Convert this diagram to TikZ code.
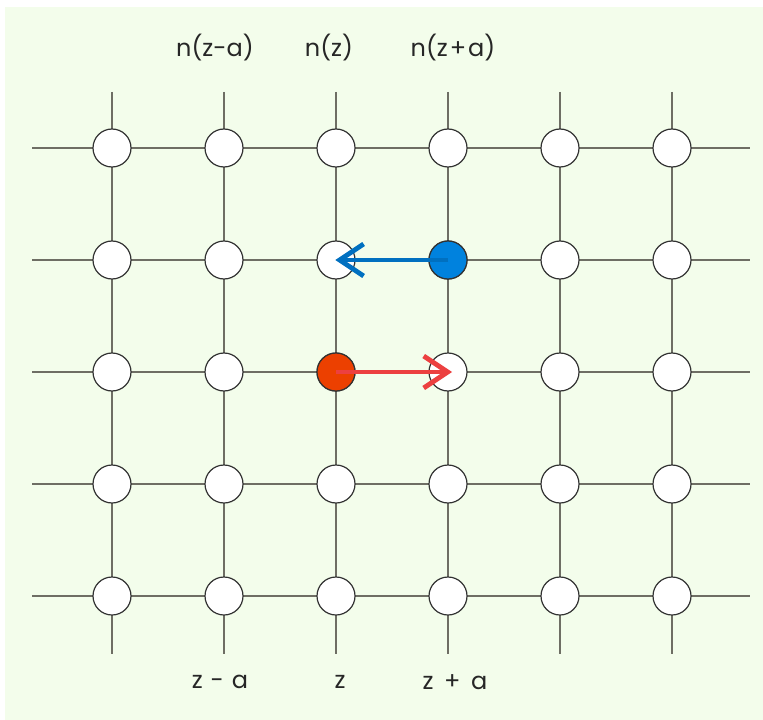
\documentclass[tikz,border=0pt]{standalone}
\usepackage{fontspec}
\setmainfont{Poppins}
\usetikzlibrary{arrows.meta}
\definecolor{bggreen}{RGB}{243,253,235}
\definecolor{gridgray}{RGB}{110,110,100}
\definecolor{ringgray}{RGB}{50,50,50}
\definecolor{bluefill}{RGB}{0,130,222}
\definecolor{bluearrow}{RGB}{0,112,192}
\definecolor{redfill}{RGB}{236,64,0}
\definecolor{redarrow}{RGB}{236,64,64}
\tikzset{
  site/.style={circle,draw=ringgray,line width=0.9pt,fill=white,minimum size=28.5pt,inner sep=0pt},
  gridline/.style={draw=gridgray,line width=0.9pt},
  lab/.style={font=\fontsize{18}{21}\selectfont,text=black!85,inner sep=0pt},
  jump/.style={line width=3.6pt,-{Straight Barb[length=18pt,width=24pt,line width=3.6pt]}}
}
\begin{document}
\begin{tikzpicture}[x=0.75pt,y=-0.75pt]
\useasboundingbox (0,0) rectangle (763,720);
\fill[bggreen] (5,7) rectangle (763,720);
% grid lines
\foreach \c in {112,224,336,448,560,672}
  \draw[gridline] (\c,92) -- (\c,654);
\foreach \r in {148,260,372,484,596}
  \draw[gridline] (32,\r) -- (750,\r);
% sites
\foreach \i/\c in {1/112,2/224,3/336,4/448,5/560,6/672}
  \foreach \j/\r in {1/148,2/260,3/372,4/484,5/596}
    \node[site] (s\i\j) at (\c,\r) {};
\node[site,fill=bluefill] (blue) at (448,260) {};
\node[site,fill=redfill] (red) at (336,372) {};
% arrows
\draw[jump,draw=bluearrow] (blue.center) -- ([xshift=-0.5pt]s32.center);
\draw[jump,draw=redarrow] (red.center) -- ([xshift=3pt]s43.center);
% labels
\node[lab] (t1) at (215,48) {n(z-a)};
\node[lab] (t2) at (329,48) {n(z)};
\node[lab] (t3) at (453,48) {n(z\hspace{1.5pt}+\hspace{1.5pt}a)};
\node[lab] (b1) at (220,682) {z\hspace{6pt}-\hspace{6pt}a};
\node[lab] (b2) at (340,682) {z};
\node[lab] (b3) at (455,682) {z\hspace{8pt}+\hspace{8pt}a};
\end{tikzpicture}
\end{document}
